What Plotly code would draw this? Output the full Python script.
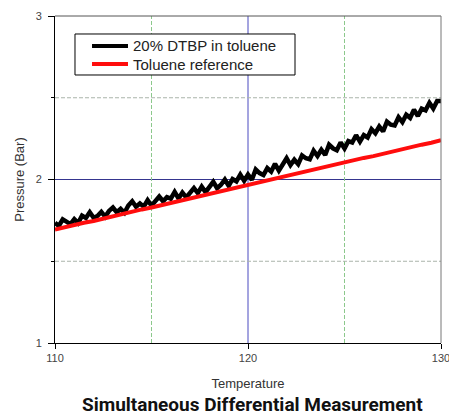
import plotly.graph_objects as go

# Temperature samples for the DTBP trace (step 0.2)
temp_dtbp = [round(110 + 0.2 * i, 1) for i in range(101)]
pressure_dtbp = [
    1.735, 1.716, 1.756, 1.742, 1.727, 1.758, 1.734, 1.779, 1.765, 1.800,
    1.766, 1.777, 1.802, 1.773, 1.808, 1.829, 1.800, 1.820, 1.796, 1.841,
    1.867, 1.833, 1.853, 1.834, 1.874, 1.840, 1.871, 1.896, 1.867, 1.892,
    1.883, 1.924, 1.884, 1.920, 1.890, 1.921, 1.947, 1.917, 1.956, 1.923,
    1.959, 1.986, 1.947, 1.968, 2.000, 1.961, 2.003, 1.989, 2.030, 1.992,
    2.030, 1.998, 2.061, 2.039, 2.027, 2.070, 2.048, 2.096, 2.054, 2.092,
    2.130, 2.088, 2.121, 2.094, 2.147, 2.130, 2.123, 2.176, 2.144, 2.182,
    2.150, 2.213, 2.191, 2.179, 2.227, 2.190, 2.235, 2.226, 2.271, 2.232,
    2.272, 2.257, 2.308, 2.283, 2.324, 2.294, 2.354, 2.335, 2.330, 2.381,
    2.351, 2.396, 2.377, 2.427, 2.388, 2.433, 2.423, 2.469, 2.434, 2.480,
    2.480,
]

# Temperature samples for toluene reference (step 0.5)
temp_tol = [110 + 0.5 * i for i in range(41)]
pressure_tol = [
    1.694, 1.709, 1.720, 1.735, 1.746, 1.761, 1.773, 1.787, 1.801, 1.817,
    1.829, 1.843, 1.857, 1.868, 1.882, 1.896, 1.908, 1.924, 1.936, 1.951,
    1.966, 1.978, 1.994, 2.006, 2.021, 2.034, 2.050, 2.062, 2.077, 2.090,
    2.106, 2.117, 2.132, 2.143, 2.158, 2.170, 2.185, 2.197, 2.213, 2.225,
    2.240,
]

series_names = ["20% DTBP in toluene", "Toluene reference"]
series_colors = ["black", "#ff0d0d"]

x_ticks = [110, 120, 130]
x_tick_text = ["110", "120", "130"]
y_ticks = [1, 2, 3]
y_tick_text = ["1", "2", "3"]
x_major_grid = [120]
y_major_grid = [2]
x_minor_grid = [115, 125]
y_minor_grid = [1.5, 2.5]

fig = go.Figure()
fig.add_trace(go.Scatter(x=temp_dtbp, y=pressure_dtbp, mode="lines",
                         name=series_names[0], showlegend=False,
                         line=dict(color=series_colors[0], width=4.5)))
fig.add_trace(go.Scatter(x=temp_tol, y=pressure_tol, mode="lines",
                         name=series_names[1], showlegend=False,
                         line=dict(color=series_colors[1], width=4)))

major_col = "#35358f"
for gx in x_major_grid:
    fig.add_shape(type="line", xref="x", yref="paper", x0=gx, x1=gx, y0=0, y1=1,
                  line=dict(color="#4a4ac0", width=1), layer="below")
for gy in y_major_grid:
    fig.add_shape(type="line", xref="paper", yref="y", x0=0, x1=1, y0=gy, y1=gy,
                  line=dict(color=major_col, width=1), layer="below")
for gx in x_minor_grid:
    fig.add_shape(type="line", xref="x", yref="paper", x0=gx, x1=gx, y0=0, y1=1,
                  line=dict(color="#8cc88c", width=1, dash="4px,2px"), layer="below")
for gy in y_minor_grid:
    fig.add_shape(type="line", xref="paper", yref="y", x0=0, x1=1, y0=gy, y1=gy,
                  line=dict(color="#aab4aa", width=1, dash="4px,2px"), layer="below")

# top / right frame (gray)
fig.add_shape(type="line", xref="paper", yref="paper", x0=0, x1=1, y0=1, y1=1,
              line=dict(color="#555", width=1))
fig.add_shape(type="line", xref="paper", yref="paper", x0=1, x1=1, y0=0, y1=1,
              line=dict(color="#777", width=1))

# legend box
font_family = "Liberation Sans, Arial, sans-serif"
fig.add_shape(type="rect", xref="paper", yref="paper", x0=0.0518, x1=0.6218,
              y0=0.8196, y1=0.945, line=dict(color="black", width=1),
              fillcolor="white")
legend_rows_y = [0.9083, 0.8532]
for name, col, ly in zip(series_names, series_colors, legend_rows_y):
    fig.add_shape(type="line", xref="paper", yref="paper", x0=0.0959, x1=0.1891,
                  y0=ly, y1=ly, line=dict(color=col, width=4))
    fig.add_annotation(text=name, xref="paper", yref="paper", x=0.1965, y=ly,
                       xanchor="left", yanchor="middle", showarrow=False,
                       font=dict(family=font_family, size=15, color="#222"))

tickfont = dict(family=font_family, size=11, color="#444")
fig.update_layout(
    width=449, height=417,
    margin=dict(l=55, r=8, t=16, b=74, autoexpand=False),
    paper_bgcolor="white", plot_bgcolor="white",
    showlegend=False,
    xaxis=dict(range=[110, 130], tickvals=x_ticks, ticktext=x_tick_text,
               tickfont=tickfont, ticks="outside", ticklen=5, tickcolor="black",
               ticklabeloverflow="allow", automargin=False,
               showline=True, linecolor="black", linewidth=1, mirror=False,
               showgrid=False, zeroline=False,
               title=dict(text="Temperature", standoff=15,
                          font=dict(family=font_family, size=13, color="#333"))),
    yaxis=dict(range=[1, 3], tickvals=y_ticks, ticktext=y_tick_text,
               tickfont=tickfont, ticks="outside", ticklen=6, tickcolor="black",
               ticklabelstandoff=4, automargin=False,
               showline=True, linecolor="black", linewidth=1, mirror=False,
               showgrid=False, zeroline=False,
               minor=dict(tickvals=y_minor_grid, showgrid=False,
                          ticks="outside", ticklen=3, tickcolor="black"),
               title=dict(text="Pressure (Bar)", standoff=8,
                          font=dict(family=font_family, size=13, color="#333"))),
)
fig.add_annotation(text="<b>Simultaneous Differential Measurement</b>",
                   xref="paper", yref="paper", x=0.512, y=-0.188,
                   xanchor="center", yanchor="middle", showarrow=False,
                   font=dict(family="Roboto, sans-serif", size=19, color="#111"))
fig.write_html("out.html", config={"displayModeBar": False},
               post_script="document.body.style.margin='0';document.body.style.overflow='hidden';")
